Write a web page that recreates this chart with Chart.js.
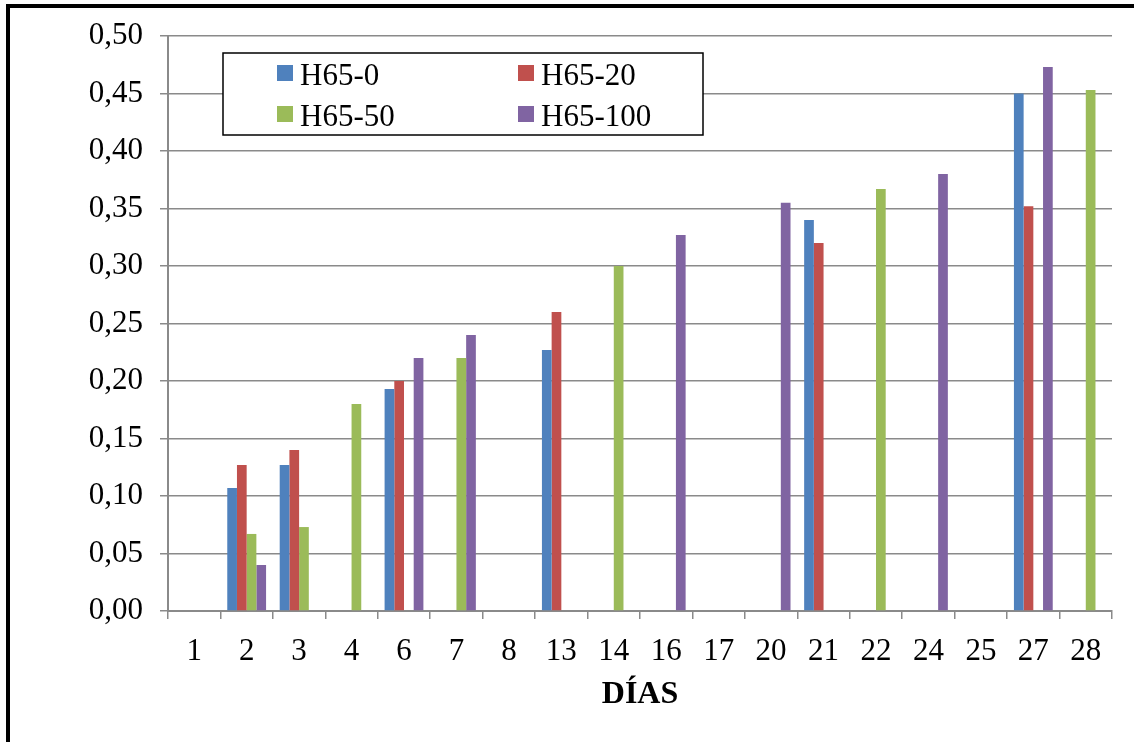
<!DOCTYPE html>
<html>
<head>
<meta charset="utf-8">
<script src="https://cdn.jsdelivr.net/npm/chart.js@4.4.1/dist/chart.umd.min.js"></script>
<style>
  html, body { margin: 0; padding: 0; background: #fff; }
  #wrap { position: relative; width: 1134px; height: 742px; overflow: hidden; }
  #frame { position: absolute; left: 6px; top: 4px; width: 1200px; height: 800px;
           border-top: 4px solid #000; border-left: 4px solid #000; pointer-events: none; }
  canvas { position: absolute; left: 0; top: 0; }
</style>
</head>
<body>
<div id="wrap">
  <canvas id="diasChart" width="1134" height="742"></canvas>
  <div id="frame"></div>
</div>
<script>
const dias = ['1', '2', '3', '4', '6', '7', '8', '13', '14', '16', '17', '20', '21', '22', '24', '25', '27', '28'];
const h65_0 =   [null, 0.107, 0.127, null, 0.193, null, null, 0.227, null, null, null, null, 0.340, null, null, null, 0.450, null];
const h65_20 =  [null, 0.127, 0.140, null, 0.200, null, null, 0.260, null, null, null, null, 0.320, null, null, null, 0.352, null];
const h65_50 =  [null, 0.067, 0.073, 0.180, null, 0.220, null, null, 0.300, null, null, null, null, 0.367, null, null, null, 0.453];
const h65_100 = [null, 0.040, null, null, 0.220, 0.240, null, null, null, 0.327, null, 0.355, null, null, 0.380, null, 0.473, null];
const yTicks = [0, 0.05, 0.10, 0.15, 0.20, 0.25, 0.30, 0.35, 0.40, 0.45, 0.50];

const serif = 'Liberation Serif';
const gridGray = '#8a8a8a';

// legend box drawn inside the plot, Excel style
const boxLegend = {
    id: 'boxLegend',
    afterDatasetsDraw(chart) {
        const ctx = chart.ctx;
        const a = chart.chartArea;
        const x = a.left + 55, y = a.top + 17, w = 480, h = 82;
        ctx.save();
        ctx.fillStyle = '#fff';
        ctx.fillRect(x, y, w, h);
        ctx.strokeStyle = '#000';
        ctx.lineWidth = 1.5;
        ctx.strokeRect(x, y, w, h);
        ctx.font = '31px "' + serif + '"';
        ctx.textBaseline = 'alphabetic';
        chart.data.datasets.forEach((ds, i) => {
            const col = i % 2, row = Math.floor(i / 2);
            const mx = x + 54 + col * 241;
            const my = y + 12 + row * 41;
            ctx.fillStyle = ds.backgroundColor;
            ctx.fillRect(mx, my, 16, 16);
            ctx.fillStyle = '#000';
            ctx.fillText(ds.label, mx + 23, my + 20);
        });
        ctx.restore();
    }
};

const ctx = document.getElementById('diasChart').getContext('2d');
const diasChart = new Chart(ctx, {
    type: 'bar',
    data: {
        labels: dias,
        datasets: [
            { label: 'H65-0', data: h65_0, backgroundColor: '#4F81BD' },
            { label: 'H65-20', data: h65_20, backgroundColor: '#C0504D' },
            { label: 'H65-50', data: h65_50, backgroundColor: '#9BBB59' },
            { label: 'H65-100', data: h65_100, backgroundColor: '#8064A2' }
        ]
    },
    options: {
        responsive: false,
        animation: false,
        layout: { padding: { top: 36, right: 22, left: 0, bottom: 0 } },
        datasets: {
            bar: { categoryPercentage: 0.74, barPercentage: 1.0, skipNull: false }
        },
        scales: {
            x: {
                grid: {
                    offset: true,
                    drawOnChartArea: false,
                    drawTicks: true,
                    tickLength: 8,
                    color: gridGray,
                    lineWidth: 1.5
                },
                border: { display: true, color: gridGray, width: 2 },
                ticks: {
                    color: '#000',
                    padding: 14,
                    maxRotation: 0,
                    autoSkip: false,
                    font: { size: 31, family: serif }
                },
                title: {
                    display: true,
                    text: 'DÍAS',
                    color: '#000',
                    padding: { top: 4, bottom: 28 },
                    font: { size: 32, family: serif, weight: 'bold' }
                },
                afterFit(scale) { scale.height = 131; }
            },
            y: {
                min: 0,
                max: 0.5,
                afterBuildTicks(scale) { scale.ticks = yTicks.map(v => ({ value: v })); },
                grid: {
                    color: gridGray,
                    lineWidth: 1.5,
                    drawTicks: true,
                    tickLength: 8
                },
                border: { display: true, color: gridGray, width: 2 },
                ticks: {
                    color: '#000',
                    padding: 17,
                    font: { size: 31, family: serif },
                    callback: v => v.toFixed(2).replace('.', ',')
                },
                afterFit(scale) { scale.width = 168; }
            }
        },
        plugins: {
            legend: { display: false },
            title: { display: false },
            tooltip: { enabled: false }
        }
    },
    plugins: [boxLegend]
});
</script>
</body>
</html>
